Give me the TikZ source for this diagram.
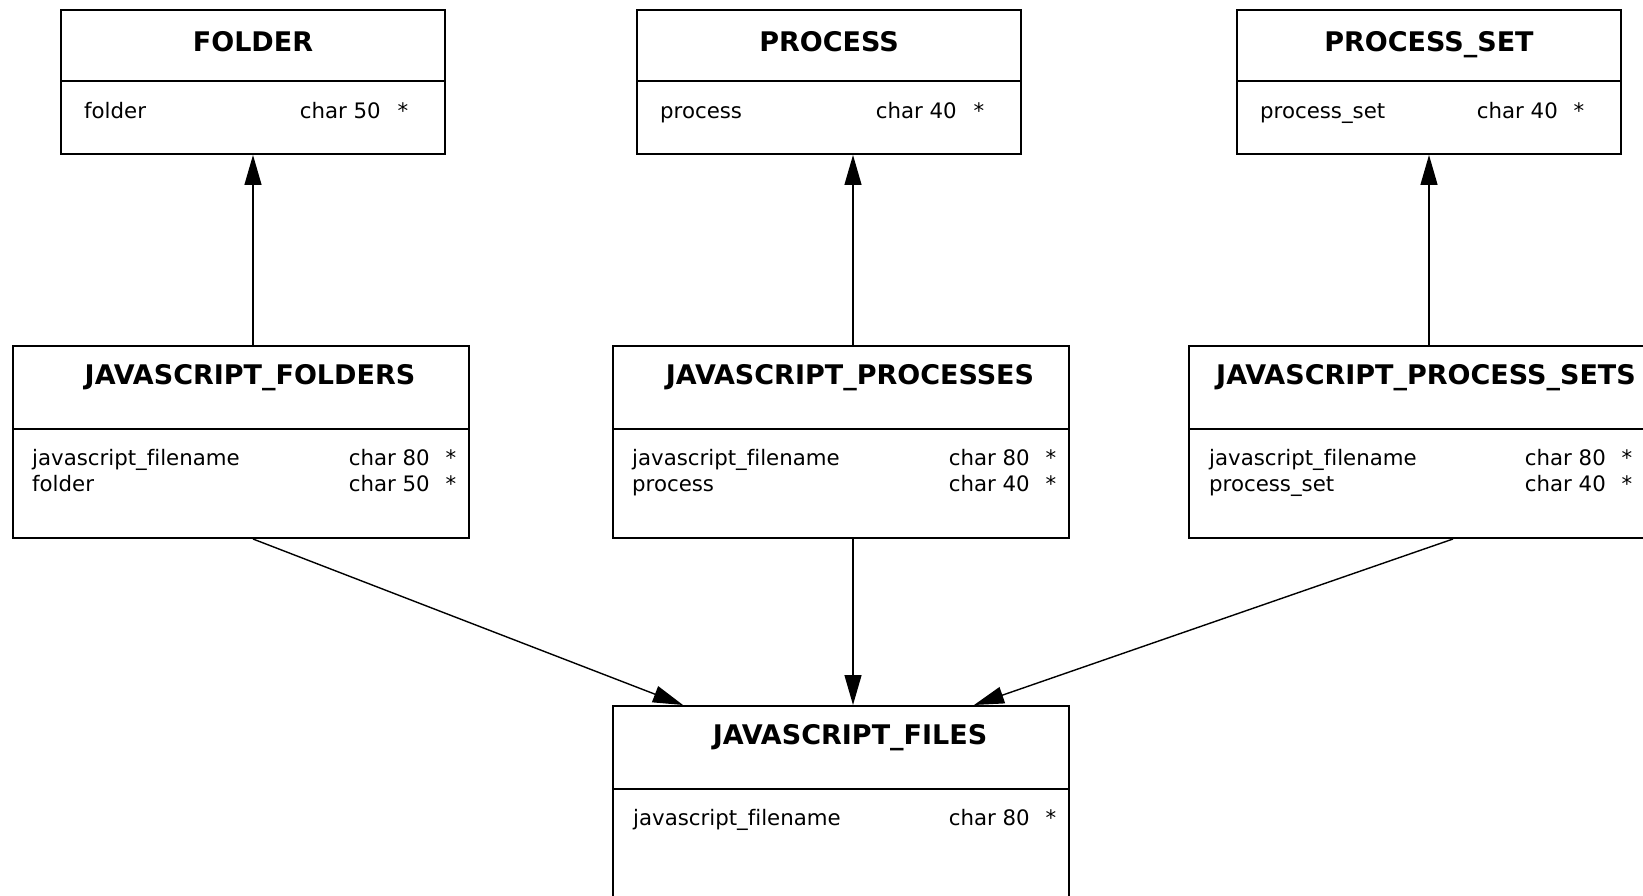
\documentclass[tikz,border=0pt]{standalone}
\usepackage{fontspec}
\setmainfont[Ligatures=CommonOff]{DejaVu Sans}
\usetikzlibrary{arrows.meta}

\newcommand\ttlfont{\fontsize{27}{32}\selectfont\bfseries}
\newcommand\fldfont{\fontsize{21.3}{26}\selectfont}

\begin{document}
\begin{tikzpicture}[x=1pt,y=-1pt]
\tikzstyle{every node}=[inner sep=0pt]
\tikzstyle{tbl}=[draw,line width=2pt,anchor=north west,minimum width=456pt,minimum height=194pt]
\tikzstyle{smalltbl}=[tbl,minimum width=384pt,minimum height=144pt]
\tikzstyle{ttl}=[anchor=base,font=\ttlfont]
\tikzstyle{fld}=[anchor=base west,font=\fldfont]
\tikzstyle{typ}=[anchor=base east,font=\fldfont]
\tikzstyle{pk}=[anchor=base,font=\fldfont]
\tikzstyle{sep}=[line width=2pt]
\tikzstyle{link}=[-{Triangle[length=30pt,width=17pt]},line width=1.4pt]
\useasboundingbox (0,0) rectangle (1643,896);

% referenced tables
\node[smalltbl] (folder) at (60,9) {};
\draw[sep] ([yshift=-72pt]folder.north west) -- ([yshift=-72pt]folder.north east);
\node[ttl] at ([yshift=-43pt]folder.north) {FOLDER};
\node[fld] at ([xshift=24pt,yshift=-110pt]folder.north west) {folder};
\node[typ] at ([xshift=-65pt,yshift=-110pt]folder.north east) {char 50};
\node[pk] at ([xshift=-43pt,yshift=-110pt]folder.north east) {*};

\node[smalltbl] (process) at (636,9) {};
\draw[sep] ([yshift=-72pt]process.north west) -- ([yshift=-72pt]process.north east);
\node[ttl] at ([yshift=-43pt]process.north) {PROCESS};
\node[fld] at ([xshift=24pt,yshift=-110pt]process.north west) {process};
\node[typ] at ([xshift=-65pt,yshift=-110pt]process.north east) {char 40};
\node[pk] at ([xshift=-43pt,yshift=-110pt]process.north east) {*};

\node[smalltbl] (pset) at (1236,9) {};
\draw[sep] ([yshift=-72pt]pset.north west) -- ([yshift=-72pt]pset.north east);
\node[ttl] at ([yshift=-43pt]pset.north) {PROCESS\_SET};
\node[fld] at ([xshift=24pt,yshift=-110pt]pset.north west) {process\_set};
\node[typ] at ([xshift=-64pt,yshift=-110pt]pset.north east) {char 40};
\node[pk] at ([xshift=-43pt,yshift=-110pt]pset.north east) {*};

% link tables
\node[tbl,minimum height=192pt] (jsfolders) at (12,345) {};
\draw[sep] ([yshift=-84pt]jsfolders.north west) -- ([yshift=-84pt]jsfolders.north east);
\node[ttl] at ([xshift=9pt,yshift=-39pt]jsfolders.north) {JAVASCRIPT\_FOLDERS};
\node[fld] at ([xshift=20pt,yshift=-120pt]jsfolders.north west) {javascript\_filename};
\node[typ] at ([xshift=-40pt,yshift=-120pt]jsfolders.north east) {char 80};
\node[pk] at ([xshift=-19pt,yshift=-120pt]jsfolders.north east) {*};
\node[fld] at ([xshift=20pt,yshift=-146pt]jsfolders.north west) {folder};
\node[typ] at ([xshift=-40pt,yshift=-146pt]jsfolders.north east) {char 50};
\node[pk] at ([xshift=-19pt,yshift=-146pt]jsfolders.north east) {*};

\node[tbl,minimum height=192pt] (jsprocesses) at (612,345) {};
\draw[sep] ([yshift=-84pt]jsprocesses.north west) -- ([yshift=-84pt]jsprocesses.north east);
\node[ttl] at ([xshift=9pt,yshift=-39pt]jsprocesses.north) {JAVASCRIPT\_PROCESSES};
\node[fld] at ([xshift=20pt,yshift=-120pt]jsprocesses.north west) {javascript\_filename};
\node[typ] at ([xshift=-40pt,yshift=-120pt]jsprocesses.north east) {char 80};
\node[pk] at ([xshift=-19pt,yshift=-120pt]jsprocesses.north east) {*};
\node[fld] at ([xshift=20pt,yshift=-146pt]jsprocesses.north west) {process};
\node[typ] at ([xshift=-40pt,yshift=-146pt]jsprocesses.north east) {char 40};
\node[pk] at ([xshift=-19pt,yshift=-146pt]jsprocesses.north east) {*};

\node[tbl,minimum height=192pt] (jspsets) at (1188,345) {};
\draw[sep] ([yshift=-84pt]jspsets.north west) -- ([yshift=-84pt]jspsets.north east);
\node[ttl] at ([xshift=9pt,yshift=-39pt]jspsets.north) {JAVASCRIPT\_PROCESS\_SETS};
\node[fld] at ([xshift=21pt,yshift=-120pt]jspsets.north west) {javascript\_filename};
\node[typ] at ([xshift=-40pt,yshift=-120pt]jspsets.north east) {char 80};
\node[pk] at ([xshift=-19pt,yshift=-120pt]jspsets.north east) {*};
\node[fld] at ([xshift=21pt,yshift=-146pt]jspsets.north west) {process\_set};
\node[typ] at ([xshift=-40pt,yshift=-146pt]jspsets.north east) {char 40};
\node[pk] at ([xshift=-19pt,yshift=-146pt]jspsets.north east) {*};

% base table
\node[tbl] (jsfiles) at (612,705) {};
\draw[sep] ([yshift=-84pt]jsfiles.north west) -- ([yshift=-84pt]jsfiles.north east);
\node[ttl] at ([xshift=9pt,yshift=-39pt]jsfiles.north) {JAVASCRIPT\_FILES};
\node[fld] at ([xshift=21pt,yshift=-120pt]jsfiles.north west) {javascript\_filename};
\node[typ] at ([xshift=-40pt,yshift=-120pt]jsfiles.north east) {char 80};
\node[pk] at ([xshift=-19pt,yshift=-120pt]jsfiles.north east) {*};

% references
\draw[link] (jsfolders.north -| folder.south) -- (folder.south);
\draw[link] ([xshift=12pt]jsprocesses.north) -- ([xshift=12pt]jsprocesses.north |- process.south);
\draw[link] (jspsets.north -| pset.south) -- (pset.south);
\draw[link] (jsfolders.south -| folder.south) -- ([xshift=71pt]jsfiles.north west);
\draw[link] ([xshift=12pt]jsprocesses.south) -- ([xshift=12pt]jsfiles.north);
\draw[link] ([xshift=36pt]jspsets.south) -- ([xshift=-96pt]jsfiles.north east);
\end{tikzpicture}
\end{document}
